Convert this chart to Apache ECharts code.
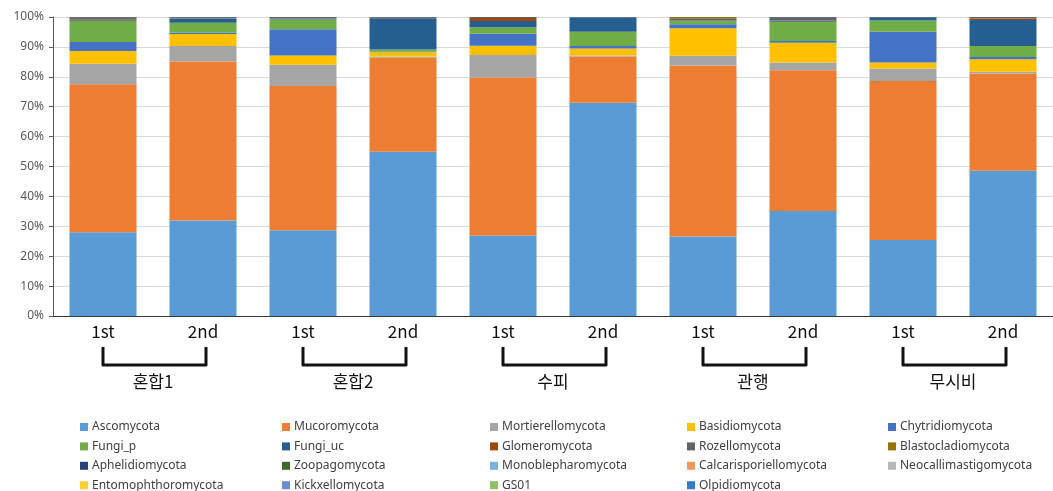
<!DOCTYPE html>
<html>
<head>
<meta charset="utf-8">
<script src="https://cdn.jsdelivr.net/npm/echarts@6/dist/echarts.min.js"></script>
<style>
  html, body { margin: 0; padding: 0; background: #ffffff; }
  #chart { width: 1053px; height: 491px; }
</style>
</head>
<body>
<div id="chart"></div>
<script>
// Sampling rounds (two per treatment) and treatment groups
const samples = ['1st', '2nd', '1st', '2nd', '1st', '2nd', '1st', '2nd', '1st', '2nd'];
const groups = ['혼합1', '혼합2', '수피', '관행', '무시비'];

// Relative abundance (%) of each fungal phylum per sample
const ascomycota         = [28.0, 31.9, 28.7, 54.9, 26.9, 71.3, 26.6, 35.1, 25.4, 48.6];
const mucoromycota       = [49.5, 53.2, 48.2, 31.5, 52.9, 15.5, 57.2, 47.1, 53.2, 32.5];
const mortierellomycota  = [6.9, 5.2, 7.1, 0.3, 7.5, 0.3, 3.2, 2.6, 4.2, 0.6];
const basidiomycota      = [4.2, 4.0, 3.1, 1.5, 3.1, 2.4, 9.2, 6.6, 2.0, 4.2];
const chytridiomycota    = [3.0, 0.5, 8.8, 0.2, 4.0, 0.8, 1.4, 0.6, 10.3, 0.7];
const fungiP             = [7.1, 3.3, 3.3, 0.7, 2.2, 4.8, 1.1, 6.4, 3.7, 3.7];
const fungiUc            = [0.2, 1.3, 0.2, 10.5, 2.1, 4.7, 0.1, 0.3, 0.9, 8.7];
const glomeromycota      = [0.3, 0.1, 0.1, 0.1, 1.0, 0.0, 0.1, 0.1, 0.0, 0.5];
const rozellomycota      = [0.7, 0.4, 0.5, 0.2, 0.3, 0.1, 0.7, 1.0, 0.2, 0.5];
const blastocladiomycota = [0.05, 0, 0, 0, 0, 0, 0.4, 0, 0, 0];
const aphelidiomycota    = [0.05, 0.1, 0, 0.1, 0, 0.1, 0, 0.2, 0.1, 0];
const zoopagomycota      = [0, 0, 0, 0, 0, 0, 0, 0, 0, 0];
const monoblepharomycota = [0, 0, 0, 0, 0, 0, 0, 0, 0, 0];
const calcarisporiellomycota = [0, 0, 0, 0, 0, 0, 0, 0, 0, 0];
const neocallimastigomycota  = [0, 0, 0, 0, 0, 0, 0, 0, 0, 0];
const entomophthoromycota    = [0, 0, 0, 0, 0, 0, 0, 0, 0, 0];
const kickxellomycota        = [0, 0, 0, 0, 0, 0, 0, 0, 0, 0];
const gs01                   = [0, 0, 0, 0, 0, 0, 0, 0, 0, 0];
const olpidiomycota          = [0, 0, 0, 0, 0, 0, 0, 0, 0, 0];

// Stacking order, bottom to top, with display names and colours
const phyla = [
  ['Ascomycota', ascomycota, '#5B9BD5'],
  ['Mucoromycota', mucoromycota, '#ED7D31'],
  ['Mortierellomycota', mortierellomycota, '#A5A5A5'],
  ['Basidiomycota', basidiomycota, '#FFC000'],
  ['Chytridiomycota', chytridiomycota, '#4472C4'],
  ['Fungi_p', fungiP, '#70AD47'],
  ['Fungi_uc', fungiUc, '#255E91'],
  ['Glomeromycota', glomeromycota, '#9E480E'],
  ['Rozellomycota', rozellomycota, '#636363'],
  ['Blastocladiomycota', blastocladiomycota, '#997300'],
  ['Aphelidiomycota', aphelidiomycota, '#264478'],
  ['Zoopagomycota', zoopagomycota, '#43682B'],
  ['Monoblepharomycota', monoblepharomycota, '#7CAFDD'],
  ['Calcarisporiellomycota', calcarisporiellomycota, '#F1975A'],
  ['Neocallimastigomycota', neocallimastigomycota, '#B7B7B7'],
  ['Entomophthoromycota', entomophthoromycota, '#FFCD33'],
  ['Kickxellomycota', kickxellomycota, '#698ED0'],
  ['GS01', gs01, '#8CC168'],
  ['Olpidiomycota', olpidiomycota, '#327DC2']
];

// Legend laid out row by row in five columns
const legendColumns = [
  ['Ascomycota', 'Fungi_p', 'Aphelidiomycota', 'Entomophthoromycota'],
  ['Mucoromycota', 'Fungi_uc', 'Zoopagomycota', 'Kickxellomycota'],
  ['Mortierellomycota', 'Glomeromycota', 'Monoblepharomycota', 'GS01'],
  ['Basidiomycota', 'Rozellomycota', 'Calcarisporiellomycota', 'Olpidiomycota'],
  ['Chytridiomycota', 'Blastocladiomycota', 'Neocallimastigomycota']
];
const legendLefts = [80, 282, 490, 687, 888];

const chart = echarts.init(document.getElementById('chart'), null, { renderer: 'canvas' });

const option = {
  animation: false,
  backgroundColor: '#ffffff',
  grid: { left: 53, top: 17, width: 1005, height: 299, containLabel: false },
  legend: legendColumns.map((col, i) => ({
    data: col,
    orient: 'vertical',
    left: legendLefts[i],
    top: 420,
    width: 200,
    height: 100,
    itemWidth: 8,
    itemHeight: 8,
    itemGap: 5.4,
    icon: 'rect',
    padding: 0,
    selectedMode: false,
    textStyle: { fontFamily: 'Noto Sans', fontSize: 12, lineHeight: 14, color: '#404040', padding: [0, 0, 0, -1] }
  })),
  xAxis: [
    {
      type: 'category',
      data: samples,
      position: 'bottom',
      axisLine: { show: true, lineStyle: { color: '#3a3a3a', width: 1 } },
      axisTick: { show: false },
      axisLabel: { margin: 7, fontFamily: 'Noto Sans CJK KR', fontSize: 17, color: '#111111' },
      splitLine: { show: false }
    },
    {
      type: 'category',
      data: groups,
      position: 'bottom',
      offset: 51,
      axisLine: { show: false },
      axisTick: { show: false },
      axisLabel: { margin: 6, fontFamily: 'Noto Sans CJK KR', fontSize: 17, color: '#111111' },
      splitLine: { show: false }
    }
  ],
  yAxis: {
    type: 'value',
    min: 0,
    max: 100,
    interval: 10,
    axisLine: { show: true, lineStyle: { color: '#595959', width: 1 } },
    axisTick: { show: true, length: 4, lineStyle: { color: '#595959' } },
    axisLabel: { formatter: '{value}%', margin: 9, fontFamily: 'Noto Sans', fontSize: 12, color: '#595959' },
    splitLine: { show: true, lineStyle: { color: '#d9d9d9', width: 1 } }
  },
  series: phyla.map(([name, values, color]) => ({
    name: name,
    type: 'bar',
    stack: 'total',
    xAxisIndex: 0,
    barWidth: 67,
    data: values,
    itemStyle: { color: color },
    emphasis: { disabled: true }
  }))
};

chart.setOption(option);

// Brackets joining the two sampling rounds of each treatment
function drawBrackets() {
  const base = chart.convertToPixel({ yAxisIndex: 0 }, 0);
  const elements = groups.map((g, i) => {
    const x1 = chart.convertToPixel({ xAxisIndex: 0 }, i * 2);
    const x2 = chart.convertToPixel({ xAxisIndex: 0 }, i * 2 + 1) + 3;
    return {
      type: 'polyline',
      shape: { points: [[x1, base + 31], [x1, base + 49], [x2, base + 49], [x2, base + 31]] },
      style: { stroke: '#111111', lineWidth: 3, fill: null, lineJoin: 'round', lineCap: 'butt' },
      silent: true
    };
  });
  chart.setOption({ graphic: elements });
}
drawBrackets();
</script>
</body>
</html>
